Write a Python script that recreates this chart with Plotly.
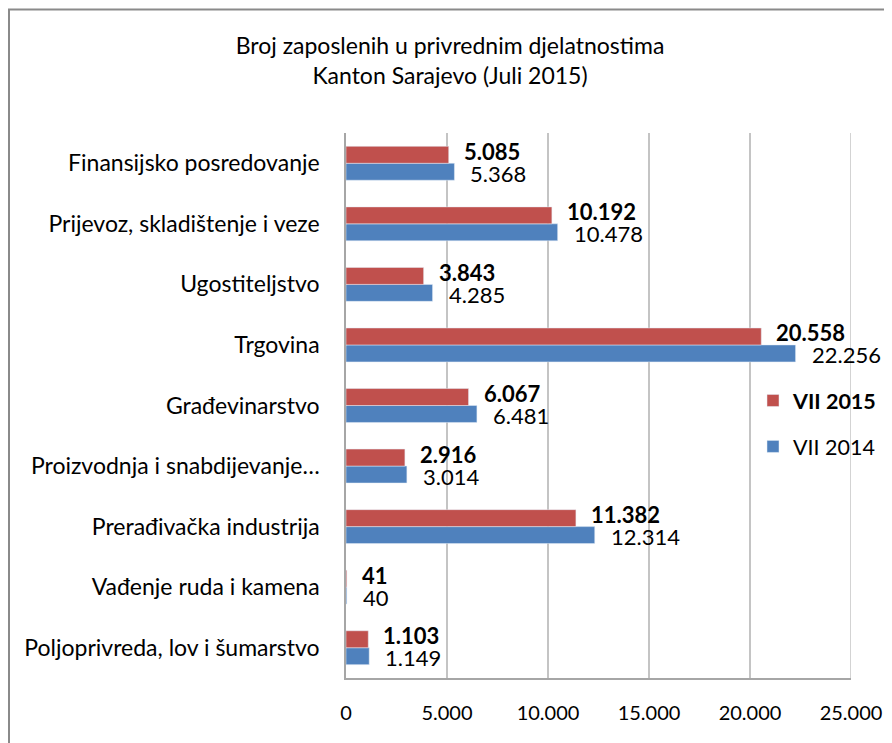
import plotly.graph_objects as go

categories = [
    "Poljoprivreda, lov i šumarstvo",
    "Vađenje ruda i kamena",
    "Prerađivačka industrija",
    "Proizvodnja i snabdijevanje…",
    "Građevinarstvo",
    "Trgovina",
    "Ugostiteljstvo",
    "Prijevoz, skladištenje i veze",
    "Finansijsko posredovanje",
]
vii_2015 = [1103, 41, 11382, 2916, 6067, 20558, 3843, 10192, 5085]
vii_2014 = [1149, 40, 12314, 3014, 6481, 22256, 4285, 10478, 5368]
tick_vals = [0, 5000, 10000, 15000, 20000, 25000]

FONT = "Lato"
RED = "#C0504D"
BLUE = "#4F81BD"
GRID = "#c4c4c4"

# figure geometry (page has an 8px body margin)
W, H = 884, 735
PL, PR, PT, PB = 338, 843, 125, 670


def fmt(v):
    return f"{v:,}".replace(",", ".")


fig = go.Figure()
fig.add_trace(go.Bar(
    y=categories, x=vii_2014, orientation="h", name="VII 2014",
    marker=dict(color=BLUE), legendgroup="b", legendrank=2,
))
fig.add_trace(go.Bar(
    y=categories, x=vii_2015, orientation="h", name="<b>VII 2015</b>",
    marker=dict(color=RED), legendgroup="a", legendrank=1,
))

annotations = []
for c, v in zip(categories, vii_2015):
    annotations.append(dict(x=v, y=c, xref="x", yref="y", text=f"<b>{fmt(v)}</b>",
                            showarrow=False, xanchor="left", yanchor="middle",
                            xshift=13, yshift=12,
                            font=dict(family=FONT, size=22, color="#000000")))
for c, v in zip(categories, vii_2014):
    annotations.append(dict(x=v, y=c, xref="x", yref="y", text=fmt(v),
                            showarrow=False, xanchor="left", yanchor="middle",
                            xshift=14, yshift=-10,
                            font=dict(family=FONT, size=22, color="#000000")))

pw, ph = PR - PL, PB - PT

fig.update_layout(
    width=W, height=H,
    margin=dict(l=PL, r=W - PR, t=PT, b=H - PB, autoexpand=False),
    paper_bgcolor="white", plot_bgcolor="white",
    barmode="group", bargap=0.44, bargroupgap=0,
    separators=",.",
    font=dict(family=FONT, size=20, color="#000000"),
    title=dict(text="Broj zaposlenih u privrednim djelatnostima<br>Kanton Sarajevo (Juli 2015)",
               x=0.5, xanchor="center", xref="container",
               y=1 - 46 / H, yanchor="top", yref="container",
               font=dict(family=FONT, size=23, color="#000000")),
    xaxis=dict(range=[0, 25000], tickvals=tick_vals, tickformat=",d",
               showgrid=True, gridcolor=GRID, gridwidth=1.5,
               showline=True, linecolor="#a6a6a6", linewidth=1.5,
               zeroline=False, ticks="", ticklabelstandoff=16, automargin=False,
               tickfont=dict(family=FONT, size=20)),
    yaxis=dict(categoryorder="array", categoryarray=categories,
               showline=True, linecolor="#a6a6a6", linewidth=1.5,
               showgrid=False, ticks="", ticklabelstandoff=20, automargin=False,
               tickfont=dict(family=FONT, size=23)),
    legend=dict(x=(745 - PL) / pw, y=(PB - 372) / ph, xanchor="left", yanchor="top",
                traceorder="grouped", tracegroupgap=15,
                font=dict(family=FONT, size=21.5), bgcolor="rgba(0,0,0,0)"),
    annotations=annotations,
    shapes=[
        dict(type="rect", xref="paper", yref="paper",
             x0=(1 - PL) / pw, x1=(W + 20 - PL) / pw,
             y0=(PB - H - 20) / ph, y1=(PB - 1.5) / ph,
             line=dict(color="#8a8a8a", width=2), fillcolor="rgba(0,0,0,0)",
             layer="below"),
        dict(type="line", xref="x", yref="paper",
             x0=tick_vals[-1], x1=tick_vals[-1], y0=0, y1=1,
             line=dict(color=GRID, width=1.5), layer="below"),
    ],
)

fig.write_html("out.html")
